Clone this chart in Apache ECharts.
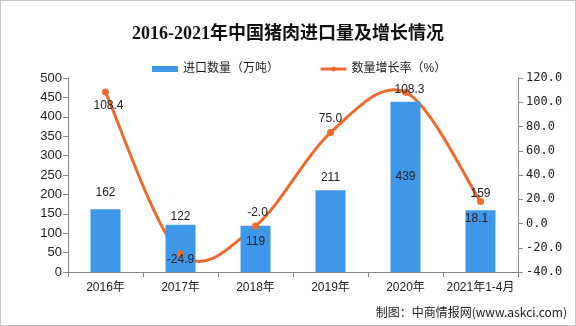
<!DOCTYPE html>
<html>
<head>
<meta charset="utf-8">
<script src="https://cdn.jsdelivr.net/npm/echarts@6/dist/echarts.min.js"></script>
<style>
  html, body { margin: 0; padding: 0; background: #fff; }
  #chart { width: 574px; height: 324px; border: 1px solid #c8c8c8; }
</style>
</head>
<body>
<div id="chart"></div>
<script>
// Pork imports 2016 – Apr 2021
const categories = ['2016年', '2017年', '2018年', '2019年', '2020年', '2021年1-4月'];
const importVolume = [162, 122, 119, 211, 439, 159];          // 万吨
const growthRate = [108.4, -24.9, -2.0, 75.0, 108.3, 18.1];   // %
const leftTicks = { min: 0, max: 500, interval: 50 };
const rightTicks = { min: -40, max: 120, interval: 20 };

// label placement for each bar / point
const barLabelPos = ['top', 'top', 'insideTop', 'top', 'inside', 'top'];
const barLabelDist = [10, 2, 10, 6, 5, 11];
const barLabelOffset = [[0, 0], [0, 0], [0, 0], [0, 0], [0, -10], [0, 0]];
const lineLabelPos = ['bottom', 'inside', 'top', 'top', 'inside', 'bottom'];
const lineLabelOffset = [[3, -2], [0, 6], [2, 2], [0, 2], [4, -2], [-4, 2]];

const font = '"Liberation Sans", "Noto Sans CJK SC", sans-serif';
const lineColor = '#ec6a2c';

// Catmull-Rom style smooth curve through the growth-rate points
function smoothPath(pts) {
  let d = 'M' + pts[0][0] + ',' + pts[0][1];
  for (let i = 0; i < pts.length - 1; i++) {
    const p0 = pts[Math.max(i - 1, 0)];
    const p1 = pts[i];
    const p2 = pts[i + 1];
    const p3 = pts[Math.min(i + 2, pts.length - 1)];
    const c1 = [p1[0] + (p2[0] - p0[0]) / 6, p1[1] + (p2[1] - p0[1]) / 6];
    const c2 = [p2[0] - (p3[0] - p1[0]) / 6, p2[1] - (p3[1] - p1[1]) / 6];
    d += ' C' + c1.join(',') + ' ' + c2.join(',') + ' ' + p2.join(',');
  }
  return d;
}

const chart = echarts.init(document.getElementById('chart'));
chart.setOption({
  animation: false,
  title: {
    text: '2016-2021年中国猪肉进口量及增长情况',
    left: 'center',
    top: 19,
    textStyle: { fontFamily: '"Liberation Serif", "Noto Sans CJK SC", serif', fontSize: 18, fontWeight: 'bold', color: '#111' }
  },
  legend: {
    top: 57,
    left: 146,
    itemGap: 40,
    itemWidth: 26,
    itemHeight: 6,
    textStyle: { fontFamily: font, fontSize: 12, color: '#222' },
    data: [
      { name: '进口数量（万吨）', icon: 'rect' },
      { name: '数量增长率（%）', lineStyle: { color: lineColor, width: 3, opacity: 1 } }
    ]
  },
  grid: { left: 67, right: 57, top: 77, bottom: 53 },
  xAxis: {
    type: 'category',
    data: categories,
    axisLine: { lineStyle: { color: '#888' } },
    axisTick: { show: true, alignWithLabel: false, lineStyle: { color: '#888' } },
    axisLabel: { interval: 0, fontFamily: font, fontSize: 12, color: '#222', margin: 10 }
  },
  yAxis: [
    {
      type: 'value',
      min: leftTicks.min, max: leftTicks.max, interval: leftTicks.interval,
      axisLine: { show: true, lineStyle: { color: '#888' } },
      axisTick: { show: true, lineStyle: { color: '#888' } },
      splitLine: { show: false },
      axisLabel: { fontFamily: font, fontSize: 13, color: '#222', margin: 6 }
    },
    {
      type: 'value',
      min: rightTicks.min, max: rightTicks.max, interval: rightTicks.interval,
      position: 'right',
      axisLine: { show: true, lineStyle: { color: '#888' } },
      axisTick: { show: true, lineStyle: { color: '#888' } },
      splitLine: { show: false },
      axisLabel: {
        fontFamily: '"DejaVu Sans Mono", monospace', fontSize: 12, color: '#222', margin: 8,
        formatter: v => v.toFixed(1)
      }
    }
  ],
  series: [
    {
      name: '进口数量（万吨）',
      type: 'bar',
      barWidth: 30,
      yAxisIndex: 0,
      itemStyle: { color: '#3f97e9' },
      data: importVolume.map((v, i) => ({
        value: v,
        label: { position: barLabelPos[i], distance: barLabelDist[i], offset: barLabelOffset[i] }
      })),
      label: { show: true, fontFamily: font, fontSize: 12, color: '#222' }
    },
    {
      // the smooth curve itself, placed through the right-hand axis scale
      type: 'custom',
      yAxisIndex: 1,
      z: 2,
      silent: true,
      data: growthRate.map((v, i) => [i, v]),
      renderItem: (params, api) => {
        if (params.dataIndex !== 0) return null;
        const pts = growthRate.map((v, i) => api.coord([i, v]));
        return {
          type: 'path',
          shape: { pathData: smoothPath(pts) },
          style: { stroke: lineColor, lineWidth: 3, fill: null }
        };
      }
    },
    {
      name: '数量增长率（%）',
      type: 'line',
      yAxisIndex: 1,
      symbol: 'circle',
      symbolSize: 7,
      lineStyle: { color: lineColor, width: 3, opacity: 0 },
      itemStyle: { color: lineColor },
      z: 3,
      data: growthRate.map((v, i) => ({
        value: v,
        label: { position: lineLabelPos[i], offset: lineLabelOffset[i], distance: 6 }
      })),
      label: {
        show: true, fontFamily: font, fontSize: 12, color: '#222',
        formatter: p => p.value.toFixed(1)
      }
    }
  ],
  graphic: [
    {
      type: 'text',
      right: 8,
      top: 305,
      style: { text: '制图：中商情报网(www.askci.com)', font: '12px "Noto Sans CJK SC", sans-serif', fill: '#222' }
    }
  ]
});
</script>
</body>
</html>
